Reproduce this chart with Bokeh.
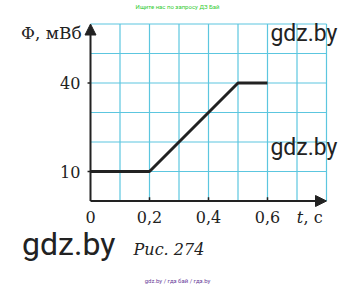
from bokeh.plotting import figure
from bokeh.models import Arrow, NormalHead, Label
from bokeh.core.properties import value
from bokeh.embed import file_html
from bokeh.resources import INLINE

# data
t_vals = [0.0, 0.2, 0.5, 0.6]
phi_vals = [10, 10, 40, 40]
x_ticks = [0.2, 0.4, 0.6]
x_tick_labels = ["0,2", "0,4", "0,6"]
y_ticks = [10, 40]
y_tick_labels = ["10", "40"]
grid_x = [0.1, 0.2, 0.3, 0.4, 0.5, 0.6, 0.7, 0.8]
grid_y = [10, 20, 30, 40, 50, 60]
x_max = 0.8
y_max = 60

W, H = 355, 287
x0_px, y0_px = 90, 200.5
sx, sy = 295.0, 2.95

p = figure(width=W, height=H, output_backend="svg", toolbar_location=None,
           x_range=(-x0_px / sx, (W - x0_px) / sx),
           y_range=(-(H - y0_px) / sy, y0_px / sy),
           min_border=0, border_fill_color="white", background_fill_color="white")
p.axis.visible = False
p.grid.visible = False
p.outline_line_color = None

grid_col = "#5cc6df"
p.segment(x0=grid_x, y0=[0] * len(grid_x), x1=grid_x, y1=[y_max] * len(grid_x),
          line_color=grid_col, line_width=1.2)
p.segment(x0=[0] * len(grid_y), y0=grid_y, x1=[x_max] * len(grid_y), y1=grid_y,
          line_color=grid_col, line_width=1.2)

# axes
p.add_layout(Arrow(end=NormalHead(size=11, fill_color="#222", line_color="#222"),
                   x_start=0, y_start=0, x_end=x_max, y_end=0,
                   line_color="#222", line_width=2))
p.add_layout(Arrow(end=NormalHead(size=11, fill_color="#222", line_color="#222"),
                   x_start=0, y_start=0, x_end=0, y_end=y_max,
                   line_color="#222", line_width=2))

# ticks
p.segment(x0=x_ticks, y0=[0] * 3, x1=x_ticks, y1=[1.3] * 3, line_color="#222", line_width=1.5)
p.segment(x0=[-0.01] * 2, y0=y_ticks, x1=[0] * 2, y1=y_ticks, line_color="#222", line_width=1.5)

# data line
p.line(t_vals, phi_vals, line_color="#222", line_width=3)

serif = "DejaVu Serif"
p.text(x=x_ticks, y=[-5.5] * 3, text=x_tick_labels, text_font=value(serif),
       text_font_size="16px", text_align="center", text_baseline="middle", text_color="#222")
p.text(x=[0], y=[-5.5], text=["0"], text_font=value(serif),
       text_font_size="16px", text_align="center", text_baseline="middle", text_color="#222")
p.text(x=[-0.034] * 2, y=y_ticks, text=y_tick_labels, text_font=value(serif),
       text_font_size="16px", text_align="right", text_baseline="middle", text_color="#222")

labels = [
    dict(x=-0.03, y=57.0, text="Φ, мВб", text_font=serif, text_font_size="17px", text_align="right"),
    dict(x=0.71, y=-5.5, text="t", text_font=serif, text_font_size="16px", text_font_style="italic", text_align="center"),
    dict(x=0.722, y=-5.5, text=", c", text_font=serif, text_font_size="16px", text_align="left"),
    dict(x=0.146, y=-16.6, text="Рис. 274", text_font=serif, text_font_size="16px", text_font_style="italic", text_align="left"),
    dict(x=0.61, y=56.8, text="gdz.by", text_font="Roboto", text_font_size="23px", text_align="left"),
    dict(x=0.61, y=18.2, text="gdz.by", text_font="Roboto", text_font_size="23px", text_align="left"),
    dict(x=-0.232, y=-14.7, text="gdz.by", text_font="Roboto", text_font_size="32px", text_align="left"),
    dict(x=0.295, y=65.9, text="Ищите нас по запросу ДЗ Бай", text_font="Roboto", text_font_size="6px",
         text_align="center", text_color="#33cc33"),
    dict(x=0.295, y=-27.0, text="gdz.by / гдз бай / гдз.by", text_font="Roboto", text_font_size="6px",
         text_align="center", text_color="#6a3d9a"),
]
for d in labels:
    d.setdefault("text_color", "#222")
    p.add_layout(Label(text_baseline="middle", **d))

open("out.html", "w").write(file_html(p, INLINE))
